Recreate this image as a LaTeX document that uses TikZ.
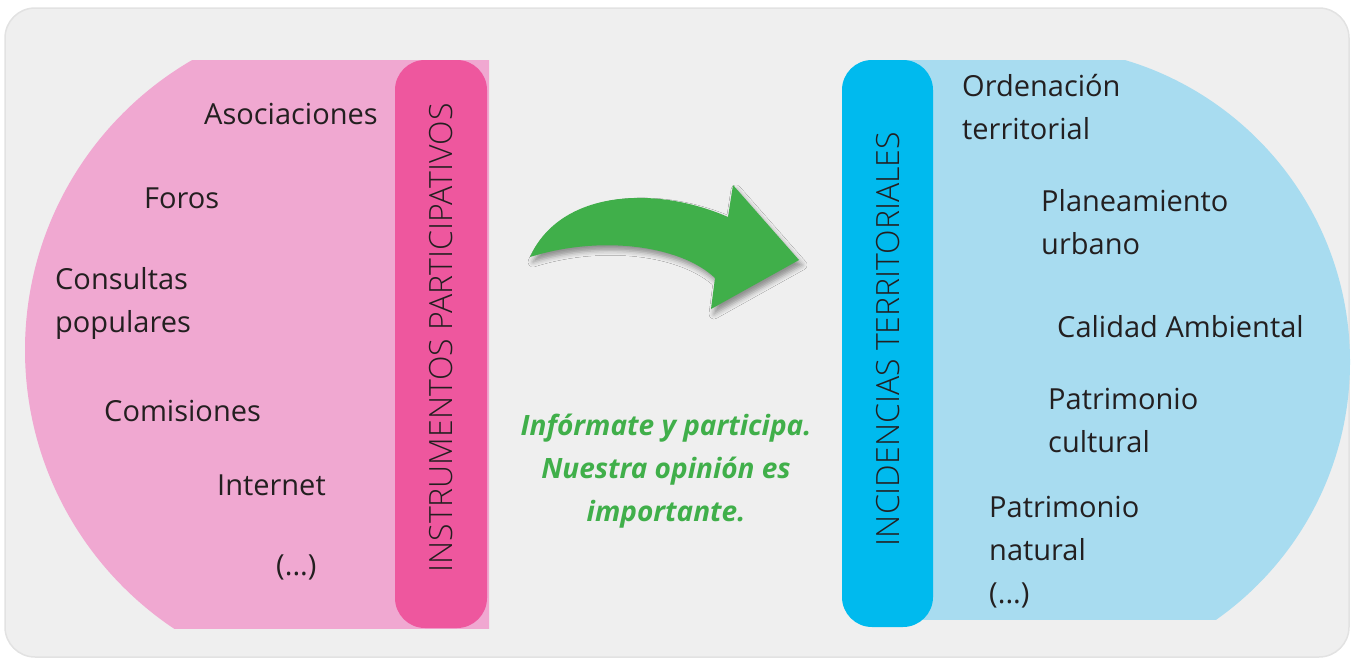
\documentclass[tikz,border=0pt]{standalone}
\usepackage{fontspec}
\setmainfont{Open Sans}
\newfontfamily\barfont{Open Sans Light}
\usetikzlibrary{shadows.blur}
\definecolor{bggray}{RGB}{239,239,239}
\definecolor{bgline}{RGB}{226,226,226}
\definecolor{lpink}{RGB}{240,168,209}
\definecolor{dpink}{RGB}{238,87,158}
\definecolor{lblue}{RGB}{168,220,240}
\definecolor{dblue}{RGB}{0,186,238}
\definecolor{agreen}{RGB}{64,175,74}
\definecolor{txt}{RGB}{35,31,32}
\begin{document}
\begin{tikzpicture}[x=1pt,y=-1pt,
  item/.style={anchor=base west, inner sep=0pt, font=\fontsize{29}{43}\selectfont, text=txt, align=left},
  bartext/.style={inner sep=0pt, rotate=90, font=\barfont\fontsize{32}{38}\selectfont, text=txt},
  barbox/.style={rounded corners=30pt},
  msg/.style={anchor=base, inner sep=0pt, align=center, text=agreen, font=\bfseries\itshape\fontsize{28}{43}\selectfont}]
\useasboundingbox (0,0) rectangle (1357,659);
% background
\fill[bggray, draw=bgline, line width=1.5pt, rounded corners=30pt] (5,8) rectangle (1349,657);
% left region
\begin{scope}
  \clip (0,60) rectangle (489,628);
  \fill[lpink] (360,350) circle[radius=335];
  \fill[lpink] (360,60) rectangle (489,628);
\end{scope}
\fill[dpink, barbox] (395,60) rectangle (487,628);
\node[bartext] (lbar) at (441,338) {INSTRUMENTOS PARTICIPATIVOS};
% right region
\begin{scope}
  \clip (880,60) rectangle (1357,619);
  \fill[lblue] (1035,362) circle[radius=315];
  \fill[lblue] (880,60) rectangle (1035,619);
\end{scope}
\fill[dblue, barbox] (842,60) rectangle (933,627);
\node[bartext] (rbar) at (888,339) {INCIDENCIAS TERRITORIALES};
% left items (base = baseline of last line)
\node[item] (asoc) at (204,124) {Asociaciones};
\node[item] (foros) at (144,208) {Foros};
\node[item] (cons) at (55,332) {Consultas\\populares};
\node[item] (comi) at (104,421) {Comisiones};
\node[item] (inte) at (217,495) {Internet};
\node[item] (ldots) at (276,575) {(...)};
% right items
\node[item] (orde) at (962,139) {Ordenación\\territorial};
\node[item] (plan) at (1041,254) {Planeamiento\\urbano};
\node[item] (cali) at (1057,337) {Calidad Ambiental};
\node[item] (patc) at (1048,452) {Patrimonio\\cultural};
\node[item] (patn) at (989,603) {Patrimonio\\natural\\(...)};
% arrow
\fill[agreen, blur shadow={shadow xshift=3pt, shadow yshift=-5pt, shadow blur radius=5pt, shadow opacity=40}]
  (530,257) .. controls (560,190) and (655,185) .. (728,217)
  -- (733,185) -- (799,260) -- (711,309) -- (715,278)
  .. controls (680,245) and (600,235) .. (530,257) -- cycle;
% message
\node[msg] (msg) at (666,521) {Infórmate y participa.\\Nuestra opinión es\\importante.};
\end{tikzpicture}
\end{document}
